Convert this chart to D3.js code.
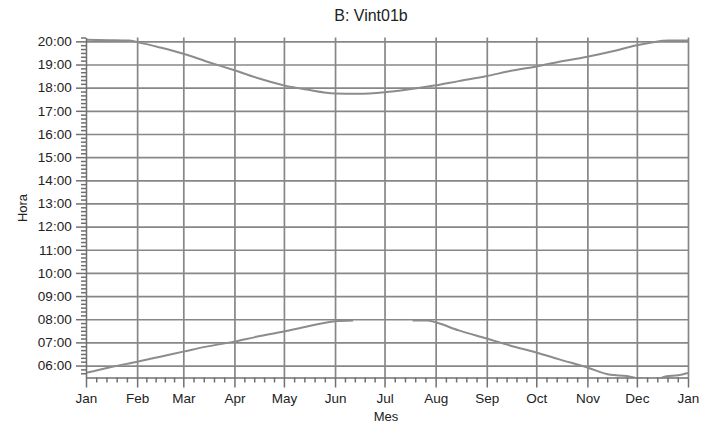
<!DOCTYPE html>
<html>
<head>
<meta charset="utf-8">
<script src="https://cdn.jsdelivr.net/npm/d3@7"></script>
<style>
  body { margin: 0; background: #fff; }
  svg { display: block; font-family: "Liberation Sans", Arial, sans-serif; }
  .grid line { stroke: #878787; stroke-width: 1.7; }
  .grid path { display: none; }
  .axis path, .axis line { stroke: #707070; stroke-width: 1.5; }
  .axis text { fill: #222; font-size: 13.5px; }
  .curve { fill: none; stroke: #8c8c8c; stroke-width: 2; }
</style>
</head>
<body>
<svg id="chart"></svg>
<script>
// Month labels along the x axis (year wraps back to Jan)
const monthLabels = ["Jan", "Feb", "Mar", "Apr", "May", "Jun", "Jul", "Aug", "Sep", "Oct", "Nov", "Dec", "Jan"];

// Hour ticks on the y axis
const hourTicks = [6, 7, 8, 9, 10, 11, 12, 13, 14, 15, 16, 17, 18, 19, 20];

// Upper curve (evening)
const topDates = ["2001-01-01", "2001-01-15", "2001-01-27", "2001-02-01", "2001-02-15", "2001-03-01",
  "2001-03-15", "2001-04-01", "2001-04-15", "2001-05-01", "2001-05-15", "2001-06-01", "2001-06-15",
  "2001-07-01", "2001-07-15", "2001-08-01", "2001-08-15", "2001-09-01", "2001-09-15", "2001-10-01",
  "2001-10-15", "2001-11-01", "2001-11-15", "2001-12-01", "2001-12-10", "2001-12-20", "2002-01-01"];
const topTimes = ["20:04", "20:03", "20:02", "19:58", "19:44", "19:28",
  "19:08", "18:45", "18:25", "18:06", "17:55", "17:45", "17:44",
  "17:48", "17:55", "18:06", "18:17", "18:30", "18:43", "18:55",
  "19:07", "19:20", "19:33", "19:50", "19:57", "20:02", "20:02"];

// Lower curve (morning), null = no data
const bottomDates = ["2001-01-01", "2001-01-15", "2001-02-01", "2001-02-15", "2001-03-01", "2001-03-15",
  "2001-04-01", "2001-04-15", "2001-05-01", "2001-05-15", "2001-06-01", "2001-06-12", "2001-06-30",
  "2001-07-18", "2001-07-27", "2001-08-01", "2001-08-15", "2001-09-01", "2001-09-15", "2001-10-01",
  "2001-10-15", "2001-11-01", "2001-11-15", "2001-11-25", "2001-12-01", "2001-12-12", "2001-12-19",
  "2001-12-26", "2002-01-01"];
const bottomTimes = ["05:41", "05:55", "06:10", "06:23", "06:36", "06:49",
  "07:02", "07:15", "07:28", "07:41", "07:55", "07:57", null,
  "07:57", "07:57", "07:52", "07:31", "07:10", "06:52", "06:34",
  "06:16", "05:55", "05:36", "05:33", "05:27", "05:25", "05:32",
  "05:35", "05:41"];

const width = 716;
const height = 427;
const margin = { top: 37.5, right: 28, bottom: 49.5, left: 86 };

const svg = d3.select("#chart").attr("width", width).attr("height", height);

const parseDate = d3.timeParse("%Y-%m-%d");
const toHours = (s) => {
  if (s === null) return null;
  const [h, m] = s.split(":").map(Number);
  return h + m / 60;
};

const x = d3.scaleTime()
  .domain([parseDate("2001-01-01"), parseDate("2002-01-01")])
  .range([margin.left, width - margin.right]);

const y = d3.scaleLinear()
  .domain([5 + 29 / 60, 20 + 10 / 60])
  .range([height - margin.bottom, margin.top]);

const monthTicks = d3.timeMonth.range(parseDate("2001-01-01"), parseDate("2002-01-02"));

// Minor ticks: 4 per month, 10 minutes on the hour axis
const minorX = [];
monthTicks.slice(0, -1).forEach((m, i) => {
  const next = monthTicks[i + 1];
  for (let k = 1; k < 5; k++) minorX.push(new Date(+m + (next - m) * k / 5));
});
const minorY = d3.range(6, 20 + 1e-9, 1 / 6).filter((h) => Math.abs(h - Math.round(h)) > 1e-6)
  .concat([5 + 40 / 60, 5 + 50 / 60, 20 + 10 / 60]);

// Grid
svg.append("g")
  .attr("class", "grid")
  .attr("transform", `translate(0,${height - margin.bottom})`)
  .call(d3.axisBottom(x).tickValues(monthTicks.slice(1)).tickSize(-(height - margin.top - margin.bottom)).tickFormat(""));

svg.append("g")
  .attr("class", "grid")
  .attr("transform", `translate(${margin.left},0)`)
  .call(d3.axisLeft(y).tickValues(hourTicks).tickSize(-(width - margin.left - margin.right)).tickFormat(""));

// Curves
svg.append("clipPath").attr("id", "plot-clip")
  .append("rect")
  .attr("x", margin.left)
  .attr("y", margin.top)
  .attr("width", width - margin.left - margin.right)
  .attr("height", height - margin.top - margin.bottom);

const line = d3.line()
  .defined((d) => d.t !== null)
  .x((d) => x(d.date))
  .y((d) => y(d.t))
  .curve(d3.curveMonotoneX);

const topData = topDates.map((d, i) => ({ date: parseDate(d), t: toHours(topTimes[i]) }));
const bottomData = bottomDates.map((d, i) => ({ date: parseDate(d), t: toHours(bottomTimes[i]) }));

[topData, bottomData].forEach((data) => {
  svg.append("path")
    .attr("class", "curve")
    .attr("clip-path", "url(#plot-clip)")
    .attr("d", line(data));
});

// Axes
svg.append("g")
  .attr("class", "axis")
  .attr("transform", `translate(0,${height - margin.bottom})`)
  .call(d3.axisBottom(x).tickValues(minorX).tickSize(5).tickFormat(""))
  .call((g) => g.select(".domain").remove());

const xAxis = svg.append("g")
  .attr("class", "axis")
  .attr("transform", `translate(0,${height - margin.bottom})`)
  .call(d3.axisBottom(x).tickValues(monthTicks).tickSize(10).tickSizeOuter(0)
    .tickFormat((d, i) => monthLabels[i]));
xAxis.selectAll("text").attr("dy", "0.9em");

svg.append("g")
  .attr("class", "axis")
  .attr("transform", `translate(${margin.left},0)`)
  .call(d3.axisLeft(y).tickValues(minorY).tickSize(5).tickFormat(""))
  .call((g) => g.select(".domain").remove());

svg.append("g")
  .attr("class", "axis")
  .attr("transform", `translate(${margin.left},0)`)
  .call(d3.axisLeft(y).tickValues(hourTicks).tickSize(10).tickSizeOuter(0)
    .tickFormat((d) => String(d).padStart(2, "0") + ":00"))
  .selectAll("text").attr("dx", "-0.1em");

// Titles
svg.append("text")
  .attr("x", 371)
  .attr("y", 21)
  .attr("text-anchor", "middle")
  .attr("font-size", "16px")
  .attr("fill", "#222")
  .text("B: Vint01b");

svg.append("text")
  .attr("x", 386)
  .attr("y", 421)
  .attr("text-anchor", "middle")
  .attr("font-size", "13px")
  .attr("fill", "#222")
  .text("Mes");

svg.append("text")
  .attr("transform", "translate(27,208) rotate(-90)")
  .attr("text-anchor", "middle")
  .attr("font-size", "13px")
  .attr("fill", "#222")
  .text("Hora");
</script>
</body>
</html>
